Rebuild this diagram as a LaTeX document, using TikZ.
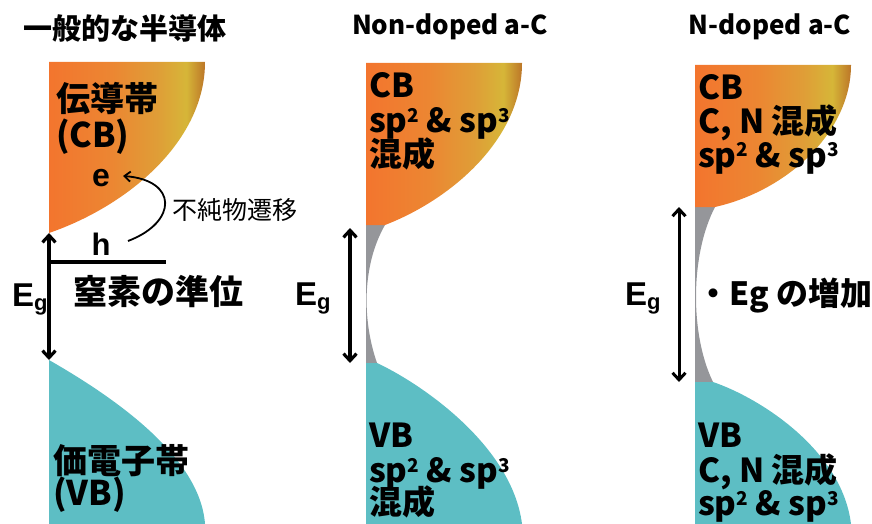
\documentclass[tikz,border=0pt]{standalone}
\usepackage{fontspec}
\usetikzlibrary{arrows.meta}
\newfontfamily\jp{Noto Sans CJK JP}
\newfontfamily\arl{Liberation Sans}

\definecolor{cbA}{RGB}{243,117,46}
\definecolor{cbB}{RGB}{236,134,50}
\definecolor{cbC}{RGB}{223,158,55}
\definecolor{cbD}{RGB}{214,182,56}
\definecolor{cbE}{RGB}{188,118,40}
\definecolor{vbcol}{RGB}{93,190,196}
\definecolor{gapcol}{RGB}{149,150,154}

% conduction band: orange to yellow, darker at the outer rim
\pgfdeclarehorizontalshading{cbshade}{100bp}{color(0bp)=(cbA); color(25bp)=(cbA);
  color(45bp)=(cbB); color(60bp)=(cbC); color(69bp)=(cbD); color(75bp)=(cbE); color(100bp)=(cbE)}

\newcommand\supr[1]{\raisebox{10pt}{\fontsize{19}{19}\selectfont #1}}
\newcommand\subg{\lower4pt\hbox{\fontsize{22}{22}\selectfont g}}

\tikzset{
  txt/.style={inner sep=0pt, outer sep=0pt, anchor=base west, font=\jp\bfseries\fontsize{34}{34}\selectfont},
  ptxt/.style={txt, font=\jp\bfseries\fontsize{33}{33}\selectfont},
  ttl/.style={inner sep=0pt, anchor=base, font=\jp\bfseries\fontsize{26}{26}\selectfont},
  egl/.style={inner sep=0pt, anchor=base west, font=\arl\bfseries\fontsize{33}{33}\selectfont},
  gaparrow/.style={line width=3.2pt, {Straight Barb[length=7pt,width=13pt]}-{Straight Barb[length=7pt,width=13pt]}},
  cbfill/.style={shading=cbshade},
  vbfill/.style={fill=vbcol},
  gapfill/.style={fill=gapcol},
}

\begin{document}
\begin{tikzpicture}[x=1pt,y=-1pt]
\useasboundingbox (0,0) rectangle (872,524);

% ---------- ordinary semiconductor ----------
\path[cbfill] (49,62) -- (205,62) .. controls (205,140) and (130,205) .. (49,233) -- cycle;
\path[vbfill] (49,360) .. controls (110,395) and (200,455) .. (205,524) -- (49,524) -- cycle;

\node[inner sep=0pt, anchor=base west, font=\jp\bfseries\fontsize{29}{29}\selectfont] (t1) at (23,40) {一般的な半導体};
\node[txt] (cb1a) at (56,112) {伝導帯};
\node[txt] (cb1b) at (56,147) {(CB)};
\node[txt] (vb1a) at (53,473) {価電子帯};
\node[txt] (vb1b) at (53,505) {(VB)};
\node[txt] (lvl) at (73,304) {窒素の準位};
\node[inner sep=0pt, anchor=base, font=\arl\bfseries\fontsize{32}{32}\selectfont] (el) at (101,186) {e};
\node[inner sep=0pt, anchor=base, font=\arl\bfseries\fontsize{31}{31}\selectfont] (hl) at (101,255) {h};
\node[inner sep=0pt, anchor=base west, font=\jp\fontsize{25}{25}\selectfont] (imp) at (172,219) {不純物遷移};
\node[egl] (eg1) at (12,306) {E\subg};

\coordinate (g1top) at (49,233);
\coordinate (g1bot) at (49,360);
\draw[gaparrow] (g1top) -- (g1bot);
\coordinate (lvlL) at (49,262);
\coordinate (lvlR) at (166,262);
\draw[line width=3.4pt] (lvlL) -- (lvlR);

\coordinate (hout) at (128,241);
\coordinate (ein) at (123,176);
\draw[line width=1.8pt, -{Straight Barb[length=6pt,width=10pt]}] (hout) .. controls (178,222) and (178,180) .. (ein);

% ---------- non-doped a-C ----------
\path[gapfill] (366,225) -- (385,225) .. controls (362,265) and (362,320) .. (377,363) -- (366,363) -- cycle;
\path[cbfill] (366,63) -- (522,63) .. controls (522,140) and (450,200) .. (385,225) -- (366,225) -- cycle;
\path[vbfill] (366,363) -- (377,363) .. controls (420,383) and (512,445) .. (522,524) -- (366,524) -- cycle;

\node[ttl] (t2) at (450,35) {Non-doped a-C};
\node[ptxt] (cb2a) at (369,98) {CB};
\node[ptxt] (cb2b) at (369,132) {sp\supr{2} \& sp\supr{3}};
\node[ptxt] (cb2c) at (369,166) {混成};
\node[ptxt] (vb2a) at (369,447) {VB};
\node[ptxt] (vb2b) at (369,482) {sp\supr{2} \& sp\supr{3}};
\node[ptxt] (vb2c) at (369,514) {混成};
\node[egl] (eg2) at (295,305) {E\subg};

\coordinate (g2top) at (350,228);
\coordinate (g2bot) at (350,363);
\draw[gaparrow] (g2top) -- (g2bot);

% ---------- N-doped a-C ----------
\path[gapfill] (695,207) -- (715,207) .. controls (690,255) and (690,335) .. (713,382) -- (695,382) -- cycle;
\path[cbfill] (695,65) -- (851,65) .. controls (851,130) and (790,190) .. (715,207) -- (695,207) -- cycle;
\path[vbfill] (695,382) -- (713,382) .. controls (760,398) and (842,450) .. (851,524) -- (695,524) -- cycle;

\node[ttl] (t3) at (770,35) {N-doped a-C};
\node[ptxt] (cb3a) at (698,100) {CB};
\node[ptxt] (cb3b) at (698,133) {C, N 混成};
\node[ptxt] (cb3c) at (698,167) {sp\supr{2} \& sp\supr{3}};
\node[ptxt] (vb3a) at (698,447) {VB};
\node[ptxt] (vb3b) at (698,482) {C, N 混成};
\node[ptxt] (vb3c) at (698,515) {sp\supr{2} \& sp\supr{3}};
\node[egl] (eg3) at (625,305) {E\subg};
\node[txt, font=\jp\bfseries\fontsize{32}{32}\selectfont] (inc) at (697,305) {・Eg の増加};

\coordinate (g3top) at (679,207);
\coordinate (g3bot) at (679,382);
\draw[gaparrow, line width=3pt] (g3top) -- (g3bot);
\end{tikzpicture}
\end{document}
